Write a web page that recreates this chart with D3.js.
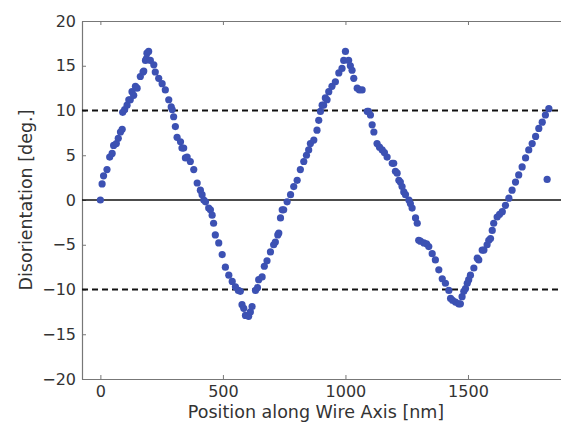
<!DOCTYPE html>
<html>
<head>
<meta charset="utf-8">
<script src="https://cdn.jsdelivr.net/npm/d3@7"></script>
<style>
  body { margin: 0; background: #fff; }
  svg text { font-family: "DejaVu Sans", sans-serif; fill: #333; }
</style>
</head>
<body>
<svg id="chart" width="561" height="422"></svg>
<script>
// position along wire [nm]
var positions = [
  0, 7, 13, 27, 38, 48, 54, 65, 73, 82, 89, 91, 99, 109, 116, 122, 129, 136, 143, 150,
  163, 174, 177, 184, 188, 190, 197,
  204, 218, 224, 238, 252, 265, 279, 289, 293, 299, 306, 313, 327, 333, 340, 347, 354, 367,
  381, 395, 408, 415, 422, 429, 442, 449, 456, 462, 469, 483, 497, 510, 524, 538, 551, 563,
  571, 578, 585, 592, 605, 612,
  619, 633, 641, 646, 660, 669, 680, 694, 707, 714, 724, 728, 735, 742, 748, 762, 776, 789,
  803, 816, 830, 841, 850, 857, 871, 884, 891, 898, 905, 911, 918, 925, 932, 945, 959, 973,
  986, 993, 1000,
  1013, 1020, 1027, 1034, 1048, 1057, 1068, 1089, 1094, 1102, 1109, 1116, 1129, 1139, 1150,
  1159, 1170, 1191, 1197, 1204, 1211, 1218, 1224, 1231, 1238, 1245, 1259, 1265, 1272, 1286,
  1293, 1299, 1306, 1320, 1331, 1340, 1354, 1367, 1381, 1395, 1408, 1422, 1429, 1437, 1449,
  1462, 1469,
  1476, 1483, 1490, 1497, 1503, 1510, 1524, 1538, 1544, 1558, 1565, 1578, 1585, 1592, 1599,
  1605, 1619, 1629, 1640, 1653, 1667, 1680, 1694, 1707, 1721, 1735, 1748, 1762, 1776, 1789,
  1803, 1816, 1830,
  1823
];
// disorientation [deg.]
var angles = [
  0, 1.8, 2.7, 3.4, 4.8, 5.2, 6.1, 6.3, 6.9, 7.6, 7.9, 9.8, 10.1, 10.6, 11.2, 11.2, 12.1, 11.7, 12.7, 12.5,
  13.8, 14.3, 14.4, 15.6, 15.8, 16.4, 16.6,
  15.6, 15.1, 14.3, 13.6, 13.0, 12.3, 11.2, 10.4, 10.1, 9.3, 8.2, 7.0, 6.5, 5.8, 5.8, 4.7, 4.8, 4.3,
  3.4, 1.9, 1.1, 0.6, 0, -0.2, -0.9, -1.1, -1.7, -2.6, -3.9, -4.8, -6.1, -7.5, -8.4, -9.1, -9.7, -10.1,
  -10.2, -11.7, -12.1, -12.9, -13.0, -12.5,
  -11.9, -10.1, -9.8, -8.9, -8.6, -7.4, -6.8, -5.8, -5.0, -4.7, -3.9, -3.7, -2.0, -1.1, -1.1, -0.2, 0.6, 1.5,
  2.2, 3.4, 4.3, 5.0, 5.6, 6.3, 6.7, 7.8, 8.9, 9.9, 10.6, 10.6, 11.4, 11.2, 12.1, 12.7, 13.2, 14.2,
  14.7, 15.6, 16.6,
  15.6, 15.0, 14.5, 13.6, 12.5, 12.3, 12.3, 9.9, 9.9, 9.5, 8.4, 7.6, 6.3, 5.9, 5.6,
  5.3, 4.8, 4.1, 4.1, 3.2, 3.0, 2.2, 2.0, 1.5, 0.9, 0.6, 0, -0.4, -0.9, -2.0,
  -2.6, -4.5, -4.6, -4.8, -4.9, -5.2, -6.0, -6.7, -7.8, -8.8, -9.3, -10.1, -11.0, -11.2, -11.4,
  -11.6, -11.6,
  -10.8, -10.2, -9.9, -9.3, -8.9, -8.4, -7.6, -6.5, -6.7, -5.6, -5.6, -5.0, -4.5, -4.3, -3.4,
  -2.6, -1.9, -1.6, -1.3, -0.6, 0.2, 1.1, 2.0, 2.8, 3.7, 4.7, 5.6, 6.3, 7.1, 8.0,
  8.7, 9.5, 10.2,
  2.3
];
var xTicks = [0, 500, 1000, 1500];
var yTicks = [-20, -15, -10, -5, 0, 5, 10, 15, 20];
var refLevels = [10, -10];

var margin = {left: 82, top: 21, bottom: 43},
    width = 484, height = 422 - margin.top - margin.bottom;

var svg = d3.select("#chart");
var g = svg.append("g")
    .attr("transform", "translate(" + margin.left + "," + margin.top + ")");

var x = d3.scaleLinear().domain([-75, 1900]).range([0, width]);
var y = d3.scaleLinear().domain([-20, 20]).range([height, 0]);

var fmt = function(d) { return d3.format("d")(d); };

// axes, matplotlib classic style: ticks pointing in, grey frame
var xAxis = g.append("g")
    .attr("transform", "translate(0," + height + ")")
    .call(d3.axisBottom(x).tickValues(xTicks).tickSizeInner(-4).tickSizeOuter(0).tickPadding(7).tickFormat(fmt));
var xTop = g.append("g")
    .call(d3.axisTop(x).tickValues(xTicks).tickSizeInner(-4).tickSizeOuter(0).tickFormat(""));
var yAxis = g.append("g")
    .call(d3.axisLeft(y).tickValues(yTicks).tickSizeInner(-4).tickSizeOuter(0).tickPadding(6).tickFormat(fmt));
var yRight = g.append("g")
    .attr("transform", "translate(" + width + ",0)")
    .call(d3.axisRight(y).tickValues(yTicks).tickSizeInner(-4).tickSizeOuter(0).tickFormat(""));

[xAxis, xTop, yAxis, yRight].forEach(function(a) {
  a.select(".domain").attr("stroke", "#777").attr("stroke-width", 1.2);
  a.selectAll(".tick line").attr("stroke", "#777");
  a.selectAll(".tick text")
    .style("font-size", "16px")
    .style("font-family", "'DejaVu Sans', sans-serif")
    .attr("fill", "#333");
});

// zero line and +-10 deg reference lines
g.append("line")
    .attr("x1", 0).attr("x2", width)
    .attr("y1", y(0)).attr("y2", y(0))
    .attr("stroke", "#111").attr("stroke-width", 1.6);

g.selectAll("line.ref")
    .data(refLevels)
    .enter()
    .append("line")
    .attr("class", "ref")
    .attr("x1", 0).attr("x2", width)
    .attr("y1", function(d) { return y(d); })
    .attr("y2", function(d) { return y(d); })
    .attr("stroke", "#111")
    .attr("stroke-width", 1.8)
    .attr("stroke-dasharray", "6,4");

var pts = positions.map(function(p, i) { return {x: p, y: angles[i]}; });

g.selectAll("circle.pt")
    .data(pts)
    .enter()
    .append("circle")
    .attr("class", "pt")
    .attr("cx", function(d) { return x(d.x); })
    .attr("cy", function(d) { return y(d.y); })
    .attr("r", 3.6)
    .attr("fill", "#3c51b3");

// axis titles
svg.append("text")
    .attr("x", margin.left + x(880))
    .attr("y", 418)
    .attr("text-anchor", "middle")
    .style("font-size", "17.5px")
    .text("Position along Wire Axis [nm]");

svg.append("text")
    .attr("transform", "translate(32," + (margin.top + y(0)) + ") rotate(-90)")
    .attr("text-anchor", "middle")
    .style("font-size", "17.5px")
    .text("Disorientation [deg.]");
</script>
</body>
</html>
